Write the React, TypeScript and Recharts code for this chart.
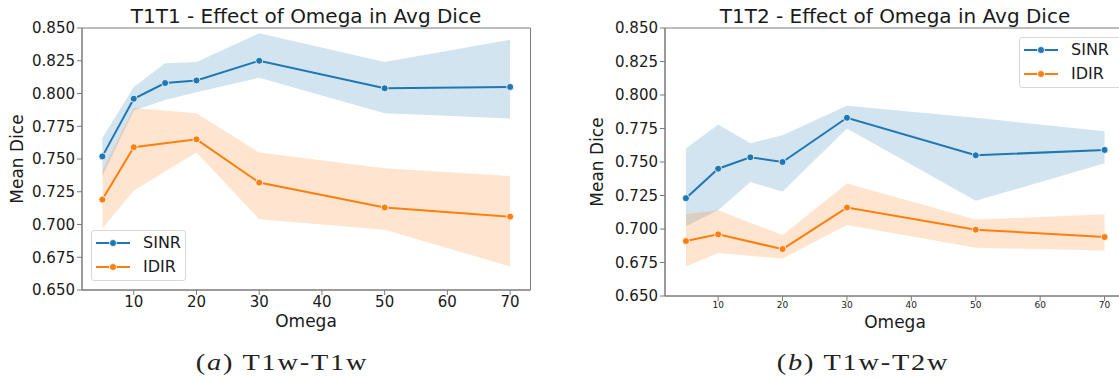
import { Area, ComposedChart, Line, ReferenceArea, XAxis, YAxis } from 'recharts';

const FONT = '"DejaVu Sans", sans-serif';
const SERIF = '"Liberation Serif", "DejaVu Serif", serif';
const BLUE = '#1f77b4';
const ORANGE = '#ff7f0e';
const SPINE = '#7a7a7a';
const INK = '#1a1a1a';

const omega = [5, 10, 15, 20, 30, 50, 70];
const xTicks = [10, 20, 30, 40, 50, 60, 70];
const yTicks = [0.65, 0.675, 0.7, 0.725, 0.75, 0.775, 0.8, 0.825, 0.85];
const X_DOMAIN: [number, number] = [1.75, 73.25];
const Y_DOMAIN: [number, number] = [0.65, 0.85];

// T1w-T1w
const t1SinrMean = [0.752, 0.796, 0.808, 0.81, 0.825, 0.804, 0.805];
const t1SinrLow = [0.737, 0.787, 0.795, 0.801, 0.812, 0.785, 0.781];
const t1SinrHigh = [0.766, 0.805, 0.823, 0.824, 0.846, 0.824, 0.841];
const t1IdirMean = [0.719, 0.759, null, 0.765, 0.732, 0.713, 0.706];
const t1IdirLow = [0.697, 0.726, null, 0.755, 0.704, 0.696, 0.668];
const t1IdirHigh = [0.741, 0.789, null, 0.785, 0.755, 0.743, 0.737];

// T1w-T2w
const t2SinrMean = [0.723, 0.745, 0.7535, 0.75, 0.783, 0.755, 0.759];
const t2SinrLow = [0.702, 0.714, 0.735, 0.728, 0.775, 0.721, 0.749];
const t2SinrHigh = [0.76, 0.778, 0.764, 0.77, 0.792, 0.783, 0.773];
const t2IdirMean = [0.691, 0.696, null, 0.685, 0.716, 0.6995, 0.694];
const t2IdirLow = [0.672, 0.682, null, 0.678, 0.703, 0.686, 0.684];
const t2IdirHigh = [0.711, 0.714, null, 0.6955, 0.734, 0.707, 0.711];

type Num = number | null;

function toRows(sm: Num[], sl: Num[], sh: Num[], im: Num[], il: Num[], ih: Num[]) {
  return omega.map((o, i) => ({
    omega: o,
    sinr: sm[i] ?? undefined,
    sinrBand: sl[i] != null && sh[i] != null ? [sl[i], sh[i]] : undefined,
    idir: im[i] ?? undefined,
    idirBand: il[i] != null && ih[i] != null ? [il[i], ih[i]] : undefined,
  }));
}

const t1Rows = toRows(t1SinrMean, t1SinrLow, t1SinrHigh, t1IdirMean, t1IdirLow, t1IdirHigh);
const t2Rows = toRows(t2SinrMean, t2SinrLow, t2SinrHigh, t2IdirMean, t2IdirLow, t2IdirHigh);

function Panel({ rows, left, width, height, marginRight, marginBottom, xTickSize }: any) {
  return (
    <div style={{ position: 'absolute', left, top: 0 }}>
      <ComposedChart width={width} height={height} data={rows} margin={{ top: 28, right: marginRight, bottom: marginBottom, left: 22 }}>
        <XAxis
          dataKey="omega"
          type="number"
          domain={X_DOMAIN}
          ticks={xTicks}
          allowDataOverflow
          height={30}
          stroke={SPINE}
          tickSize={5}
          tickMargin={1}
          tick={{ fill: INK, fontSize: xTickSize, fontFamily: FONT }}
        />
        <YAxis
          type="number"
          domain={Y_DOMAIN}
          ticks={yTicks}
          allowDataOverflow
          width={60}
          stroke={SPINE}
          tickSize={5}
          tickFormatter={(v: number) => v.toFixed(3)}
          tick={{ fill: INK, fontSize: 15, fontFamily: FONT }}
        />
        <Area type="linear" dataKey="sinrBand" stroke="none" fill={BLUE} fillOpacity={0.2} connectNulls isAnimationActive={false} activeDot={false} />
        <Line type="linear" dataKey="sinr" stroke={BLUE} strokeWidth={2} dot={{ r: 3.5, fill: BLUE, stroke: '#fff', strokeWidth: 0.8 }} activeDot={false} connectNulls isAnimationActive={false} />
        <Area type="linear" dataKey="idirBand" stroke="none" fill={ORANGE} fillOpacity={0.2} connectNulls isAnimationActive={false} activeDot={false} />
        <Line type="linear" dataKey="idir" stroke={ORANGE} strokeWidth={2} dot={{ r: 3.5, fill: ORANGE, stroke: '#fff', strokeWidth: 0.8 }} activeDot={false} connectNulls isAnimationActive={false} />
        <ReferenceArea x1={X_DOMAIN[0]} x2={X_DOMAIN[1]} y1={Y_DOMAIN[0]} y2={Y_DOMAIN[1]} fill="none" stroke={SPINE} strokeWidth={1} ifOverflow="visible" />
      </ComposedChart>
    </div>
  );
}

function Label({ text, cx, top, size, width = 460 }: any) {
  return (
    <div style={{ position: 'absolute', left: cx - width / 2, top, width, textAlign: 'center', fontFamily: FONT, fontSize: size, lineHeight: `${size}px`, color: INK, whiteSpace: 'nowrap' }}>
      {text}
    </div>
  );
}

function YLabel({ cx, cy }: any) {
  return (
    <div style={{ position: 'absolute', left: cx, top: cy, transform: 'translate(-50%, -50%) rotate(-90deg)', fontFamily: FONT, fontSize: 17, lineHeight: '17px', color: INK, whiteSpace: 'nowrap' }}>
      Mean Dice
    </div>
  );
}

function LegendBox({ left, top, width }: any) {
  const items = [
    { name: 'SINR', color: BLUE },
    { name: 'IDIR', color: ORANGE },
  ];
  return (
    <div style={{ position: 'absolute', left, top, width, height: 51, border: '1px solid #d8d8d8', borderRadius: 3, background: 'rgba(255,255,255,0.8)', boxSizing: 'border-box' }}>
      {items.map((it, i) => (
        <div key={it.name} style={{ position: 'absolute', left: 4, top: 12 + i * 24 - 8 }}>
          <svg width={34} height={16} style={{ position: 'absolute', left: 0, top: 0 }}>
            <line x1={0} y1={8} x2={34} y2={8} stroke={it.color} strokeWidth={2} />
            <circle cx={17} cy={8} r={3.5} fill={it.color} stroke="#fff" strokeWidth={0.8} />
          </svg>
          <div style={{ position: 'absolute', left: 47, top: 0, fontFamily: FONT, fontSize: 16, lineHeight: '16px', color: INK }}>{it.name}</div>
        </div>
      ))}
    </div>
  );
}

function Caption({ letter, text, cx }: any) {
  return (
    <div style={{ position: 'absolute', left: cx - 200, top: 350, width: 400, textAlign: 'center', fontFamily: SERIF, fontSize: 24, lineHeight: '24px', color: '#222' }}>
      <span style={{ display: 'inline-block', transform: 'scaleX(1.18)', whiteSpace: 'nowrap', letterSpacing: 1.5 }}>
        (<i>{letter}</i>) {text}
      </span>
    </div>
  );
}

export default function App() {
  return (
    <div style={{ position: 'fixed', left: 0, top: 0, width: 1119, height: 381, overflow: 'hidden', background: '#fff' }}>
      <Panel rows={t1Rows} left={0} width={545} height={330} marginRight={14.5} marginBottom={10} xTickSize={15} />
      <Panel rows={t2Rows} left={583} width={560} height={340} marginRight={17.5} marginBottom={14} xTickSize={9} />

      <Label text="T1T1 - Effect of Omega in Avg Dice" cx={306} top={6} size={20} />
      <Label text="T1T2 - Effect of Omega in Avg Dice" cx={895} top={6} size={20} />
      <Label text="Omega" cx={306} top={313} size={17} width={120} />
      <Label text="Omega" cx={895} top={314} size={17} width={120} />
      <YLabel cx={17} cy={159} />
      <YLabel cx={597} cy={162} />

      <LegendBox left={91} top={230} width={95} />
      <LegendBox left={1019} top={37} width={110} />

      <Caption letter="a" text="T1w-T1w" cx={282} />
      <Caption letter="b" text="T1w-T2w" cx={863} />
    </div>
  );
}
